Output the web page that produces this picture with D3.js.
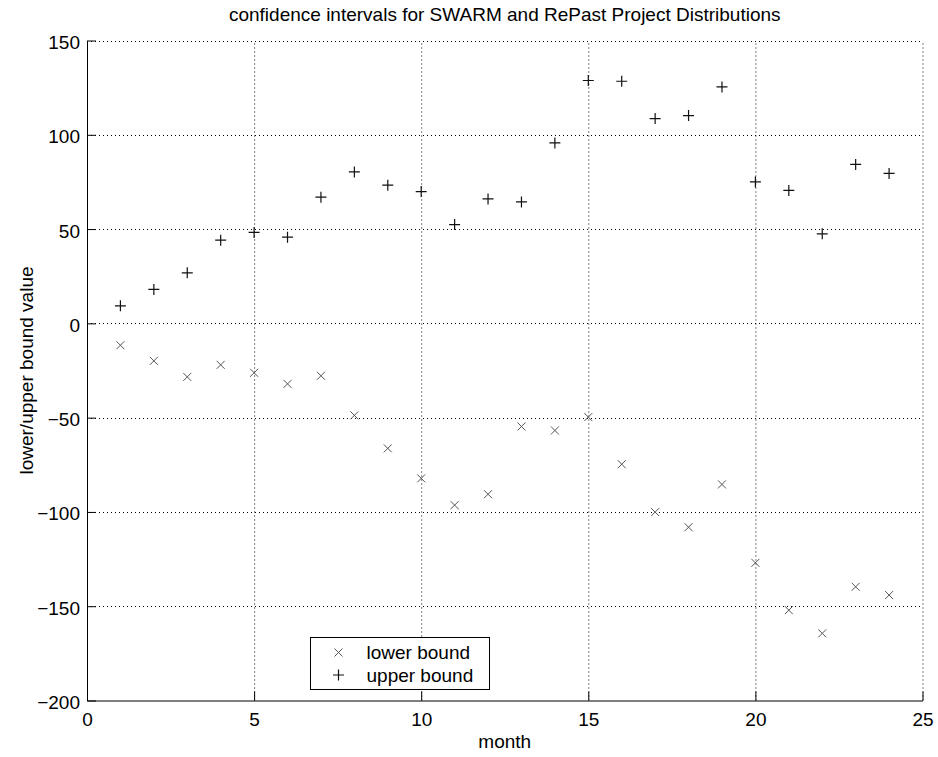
<!DOCTYPE html>
<html>
<head>
<meta charset="utf-8">
<script src="https://cdn.jsdelivr.net/npm/d3@7"></script>
<style>
  body { margin: 0; background: #fff; }
  text { font-family: "Liberation Sans", Arial, sans-serif; fill: #000; }
</style>
</head>
<body>
<svg id="chart"></svg>
<script>
const width = 938;
const height = 757;

// months 1..24
const months = d3.range(1, 25);
const lowerBound = [-11.6, -19.9, -28.4, -22.0, -26.2, -32.1, -27.8, -48.8, -66.3, -82.2, -96.4, -90.6,
                    -54.7, -56.8, -49.7, -74.7, -100.1, -108.1, -85.4, -127.0, -152.1, -164.4, -139.7, -144.1];
const upperBound = [9.3, 18.0, 26.8, 44.1, 48.2, 45.7, 66.9, 80.3, 73.3, 69.9, 52.4, 66.0,
                    64.4, 95.7, 128.8, 128.4, 108.6, 110.2, 125.4, 75.0, 70.5, 47.5, 84.3, 79.5];
const xTicks = [0, 5, 10, 15, 20, 25];
const yTicks = [-200, -150, -100, -50, 0, 50, 100, 150];

const margin = {top: 40.5, right: 15.5, bottom: 56.5, left: 87};
const fs = 19;

const svg = d3.select("#chart")
    .attr("width", width)
    .attr("height", height);

const x = d3.scaleLinear().domain([0, 25]).range([margin.left, width - margin.right]);
const y = d3.scaleLinear().domain([-200, 150]).range([height - margin.bottom, margin.top]);

// grid lines (dotted)
const grid = svg.append("g").attr("class", "grid");
grid.selectAll("line.gx")
    .data(xTicks.filter(d => d > 0))
    .enter().append("line")
    .attr("x1", d => x(d) + 0.5).attr("x2", d => x(d) + 0.5)
    .attr("y1", y(-200)).attr("y2", y(150))
    .attr("stroke", "#000").attr("stroke-width", 1)
    .attr("stroke-dasharray", "1,3");
grid.selectAll("line.gy")
    .data(yTicks.filter(d => d > -200))
    .enter().append("line")
    .attr("y1", d => Math.round(y(d)) + 0.5).attr("y2", d => Math.round(y(d)) + 0.5)
    .attr("x1", x(0)).attr("x2", x(25))
    .attr("stroke", "#000").attr("stroke-width", 1)
    .attr("stroke-dasharray", "1,3");

// axes with inward ticks
const xAxis = svg.append("g")
    .attr("transform", `translate(0,${y(-200)})`)
    .call(d3.axisBottom(x).tickValues(xTicks).tickSizeInner(-9).tickSizeOuter(0));
const yAxis = svg.append("g")
    .attr("transform", `translate(${x(0)},0)`)
    .call(d3.axisLeft(y).tickValues(yTicks).tickSizeInner(-9).tickSizeOuter(0)
        .tickFormat(d => d < 0 ? "\u2212" + Math.abs(d) : d));

[xAxis, yAxis].forEach(a => {
    a.select(".domain").attr("stroke", "#000");
    a.selectAll(".tick line").attr("stroke", "#000");
    a.selectAll(".tick text").attr("font-size", fs).attr("font-family", "Liberation Sans, Arial, sans-serif");
});
yAxis.selectAll(".tick text").attr("x", -7).attr("dy", "0.42em");
xAxis.selectAll(".tick text").attr("y", 25).attr("dy", 0);

// lower bound markers (x)
const xs = 4;
svg.append("g").selectAll("path")
    .data(months.map((m, i) => ({m, v: lowerBound[i]})))
    .enter().append("path")
    .attr("d", d => `M${x(d.m) - xs},${y(d.v) - xs}L${x(d.m) + xs},${y(d.v) + xs}M${x(d.m) - xs},${y(d.v) + xs}L${x(d.m) + xs},${y(d.v) - xs}`)
    .attr("stroke", "#555").attr("stroke-width", 1).attr("fill", "none");

// upper bound markers (+)
const ps = 5.5;
svg.append("g").selectAll("path")
    .data(months.map((m, i) => ({m, v: upperBound[i]})))
    .enter().append("path")
    .attr("d", d => `M${x(d.m) - ps},${y(d.v)}L${x(d.m) + ps},${y(d.v)}M${x(d.m)},${y(d.v) - ps}L${x(d.m)},${y(d.v) + ps}`)
    .attr("stroke", "#111").attr("stroke-width", 1.2).attr("fill", "none");

// title and labels
svg.append("text")
    .attr("x", (x(0) + x(25)) / 2).attr("y", 21)
    .attr("text-anchor", "middle").attr("font-size", fs)
    .text("confidence intervals for SWARM and RePast Project Distributions");
svg.append("text")
    .attr("x", (x(0) + x(25)) / 2).attr("y", 748)
    .attr("text-anchor", "middle").attr("font-size", fs)
    .text("month");
svg.append("text")
    .attr("transform", `translate(33,${(y(-200) + y(150)) / 2}) rotate(-90)`)
    .attr("text-anchor", "middle").attr("font-size", fs)
    .text("lower/upper bound value");

// legend
const legend = svg.append("g").attr("transform", "translate(310.5,637.5)");
legend.append("rect")
    .attr("width", 179).attr("height", 52)
    .attr("fill", "#fff").attr("stroke", "#000");
legend.append("path")
    .attr("d", `M${28 - xs},${15 - xs}L${28 + xs},${15 + xs}M${28 - xs},${15 + xs}L${28 + xs},${15 - xs}`)
    .attr("stroke", "#555").attr("fill", "none");
legend.append("path")
    .attr("d", `M${28 - ps},37.5L${28 + ps},37.5M28,${37.5 - ps}L28,${37.5 + ps}`)
    .attr("stroke", "#111").attr("stroke-width", 1.2).attr("fill", "none");
legend.append("text").attr("x", 56).attr("y", 21.5).attr("font-size", fs).text("lower bound");
legend.append("text").attr("x", 56).attr("y", 44).attr("font-size", fs).text("upper bound");
</script>
</body>
</html>
